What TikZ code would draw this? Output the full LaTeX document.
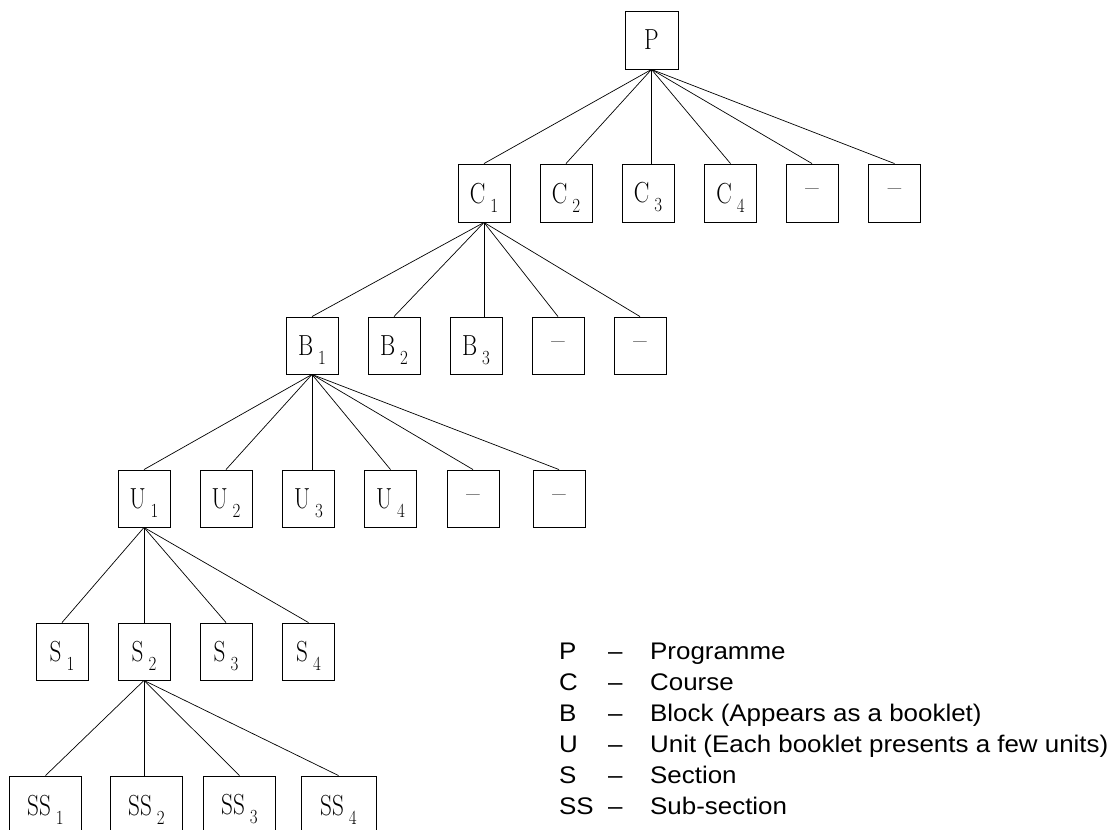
\documentclass[tikz,border=0pt]{standalone}
\usepackage{fontspec}
\newfontfamily\legfont[FakeStretch=1.08]{Liberation Sans}
\newcommand{\lbl}[2]{\rule{0pt}{29pt}\scalebox{0.8}[1]{\fontsize{29}{29}\selectfont #1}\hspace{5pt}\raisebox{-9pt}{\scalebox{0.85}[1]{\fontsize{20}{20}\selectfont #2}}}
\begin{document}
\begin{tikzpicture}[x=1pt,y=-1pt,
  box/.style={draw, line width=0.9pt, minimum width=52pt, minimum height=57pt, inner sep=0pt, font=\fontsize{29}{29}\selectfont},
  wbox/.style={box, minimum width=72pt},
  edge/.style={line width=0.7pt},
  leg/.style={anchor=base west, inner sep=0pt, font=\legfont\fontsize{24}{24}\selectfont}]
\useasboundingbox (0,0) rectangle (1112,830);
% level 0
\node[box, minimum width=53pt, minimum height=58pt] (P) at (651.5,40) {\scalebox{0.8}[1]{P}};
% level 1
\node[box, minimum height=58pt] (C1) at (484,193) {\lbl{C}{1}};
\node[box, minimum height=58pt] (C2) at (566,193) {\lbl{C}{2}};
\node[box, minimum height=58pt] (C3) at (648,193) {\lbl{C}{3}};
\node[box, minimum height=58pt] (C4) at (730.5,193) {\lbl{C}{4}};
\node[box, minimum height=58pt] (Cd1) at (812,193) {--};
\node[box, minimum height=58pt] (Cd2) at (894.5,193) {--};
% level 2
\node[box] (B1) at (312,345.5) {\lbl{B}{1}};
\node[box] (B2) at (394,345.5) {\lbl{B}{2}};
\node[box] (B3) at (476,345.5) {\lbl{B}{3}};
\node[box] (Bd1) at (558,345.5) {--};
\node[box] (Bd2) at (640,345.5) {--};
% level 3
\node[box] (U1) at (144,498.5) {\lbl{U}{1}};
\node[box] (U2) at (226,498.5) {\lbl{U}{2}};
\node[box] (U3) at (308.5,498.5) {\lbl{U}{3}};
\node[box] (U4) at (390.5,498.5) {\lbl{U}{4}};
\node[box] (Ud1) at (473,498.5) {--};
\node[box] (Ud2) at (559,498.5) {--};
% level 4
\node[box] (S1) at (62,651.5) {\lbl{S}{1}};
\node[box] (S2) at (144,651.5) {\lbl{S}{2}};
\node[box] (S3) at (226,651.5) {\lbl{S}{3}};
\node[box] (S4) at (308.5,651.5) {\lbl{S}{4}};
% level 5
\node[wbox, minimum height=58pt] (SS1) at (45.5,805) {\lbl{SS}{1}};
\node[wbox, minimum height=58pt] (SS2) at (146.5,805) {\lbl{SS}{2}};
\node[wbox, minimum height=58pt] (SS3) at (239.5,805) {\lbl{SS}{3}};
\node[wbox, minimum height=58pt, minimum width=75pt] (SS4) at (338.5,805) {\lbl{SS}{4}};
% connectors
\foreach \c in {C1,C2,C4,Cd1,Cd2} \draw[edge] (P.south) -- (\c.north);
\draw[edge] (P.south) -- (C3.north -| P.south);
\foreach \c in {B1,B2,Bd1,Bd2} \draw[edge] (C1.south) -- (\c.north);
\draw[edge] (C1.south) -- (B3.north -| C1.south);
\foreach \c in {U1,U2,U4,Ud1,Ud2} \draw[edge] (B1.south) -- (\c.north);
\draw[edge] (B1.south) -- (U3.north -| B1.south);
\foreach \c in {S1,S2,S3,S4} \draw[edge] (U1.south) -- (\c.north);
\foreach \c in {SS1,SS3,SS4} \draw[edge] (S2.south) -- (\c.north);
\draw[edge] (S2.south) -- (SS2.north -| S2.south);
% legend
\node[leg] (k1) at (559,659) {P};
\node[leg] (k2) at (559,690) {C};
\node[leg] (k3) at (559,721) {B};
\node[leg] (k4) at (559,752) {U};
\node[leg] (k5) at (559,783) {S};
\node[leg] (k6) at (559,814) {SS};
\foreach \i/\y in {1/659,2/690,3/721,4/752,5/783,6/814}
  \node[leg] (d\i) at (608,\y) {–};
\node[leg] (t1) at (650,659) {Programme};
\node[leg] (t2) at (650,690) {Course};
\node[leg] (t3) at (650,721) {Block (Appears as a booklet)};
\node[leg] (t4) at (650,752) {Unit (Each booklet presents a few units)};
\node[leg] (t5) at (650,783) {Section};
\node[leg] (t6) at (650,814) {Sub-section};
\end{tikzpicture}
\end{document}
